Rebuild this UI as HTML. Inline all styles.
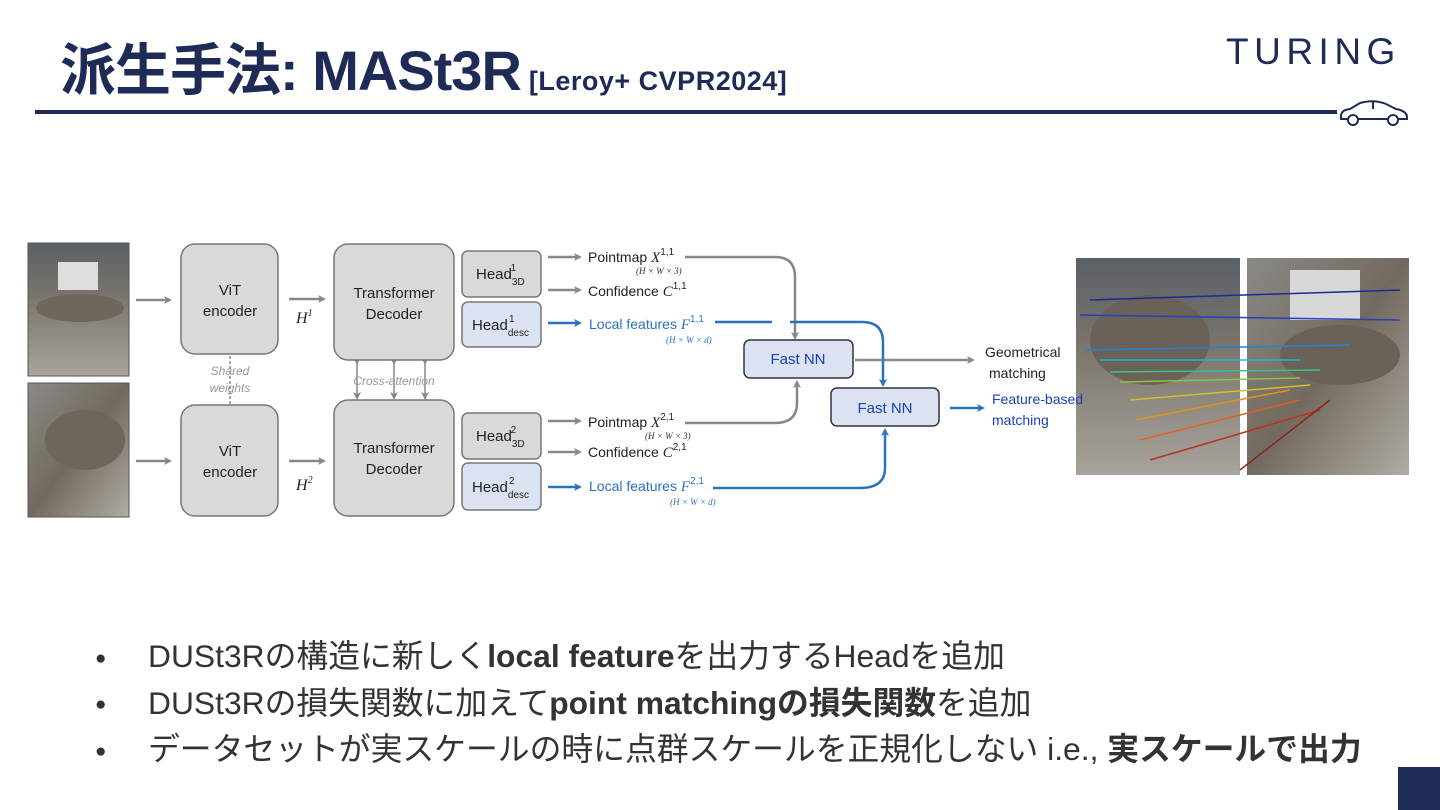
<!DOCTYPE html>
<html><head><meta charset="utf-8"><style>
body{margin:0;width:1440px;height:810px;background:#fff;overflow:hidden;position:relative;font-family:"Liberation Sans","Noto Sans CJK JP",sans-serif;}
.t{position:absolute;color:#1f2b57;}
</style></head><body>
<div class="t" style="left:60px;top:26px;font-size:56px;font-weight:bold;white-space:nowrap;letter-spacing:-1px">派生手法: MASt3R<span style="font-size:27px;letter-spacing:0.5px;margin-left:8px">[Leroy+ CVPR2024]</span></div>
<div class="t" style="left:1226px;top:31px;font-size:37px;letter-spacing:5.5px;font-weight:normal">TURING</div>
<div style="position:absolute;left:35px;top:110px;width:1302px;height:4px;background:#1f2b57"></div>
<svg style="position:absolute;left:1338px;top:98px" width="72" height="30" viewBox="0 0 72 30"><path d="M3 20 Q2 12 12 11 L22 5 Q36 1 48 6 L58 11 Q70 13 69 21 L3 21Z" fill="none" stroke="#1f2b57" stroke-width="2"/><circle cx="15" cy="22" r="5" fill="#fff" stroke="#1f2b57" stroke-width="2"/><circle cx="55" cy="22" r="5" fill="#fff" stroke="#1f2b57" stroke-width="2"/><line x1="35" y1="4" x2="35" y2="11" stroke="#1f2b57" stroke-width="2"/></svg>
<div style="position:absolute;left:1398px;top:767px;width:42px;height:43px;background:#1f2b57"></div>

<svg style="position:absolute;left:0;top:0" width="1440" height="810" viewBox="0 0 1440 810" font-family="Liberation Sans, sans-serif">
<defs>
<marker id="ag" markerWidth="8" markerHeight="8" refX="6" refY="4" orient="auto" markerUnits="userSpaceOnUse"><path d="M0 0 L8 4 L0 8 L2 4Z" fill="#888"/></marker>
<marker id="ab" markerWidth="8" markerHeight="8" refX="6" refY="4" orient="auto" markerUnits="userSpaceOnUse"><path d="M0 0 L8 4 L0 8 L2 4Z" fill="#2a72bd"/></marker>
<linearGradient id="p1" x1="0" y1="0" x2="0" y2="1"><stop offset="0" stop-color="#5a6068"/><stop offset="0.4" stop-color="#7a756c"/><stop offset="1" stop-color="#a8a49c"/></linearGradient>
<linearGradient id="p2" x1="0" y1="0" x2="1" y2="1"><stop offset="0" stop-color="#8a8a86"/><stop offset="0.5" stop-color="#726a5e"/><stop offset="1" stop-color="#b0aca4"/></linearGradient>
</defs>
<rect x="28" y="243" width="101" height="133" fill="url(#p1)" stroke="#555"/>
<rect x="58" y="262" width="40" height="28" fill="#ddd"/>
<ellipse cx="80" cy="308" rx="44" ry="14" fill="#6e665a"/>
<rect x="28" y="383" width="101" height="134" fill="url(#p2)" stroke="#555"/>
<ellipse cx="85" cy="440" rx="40" ry="30" fill="#6e665a"/>
<g stroke="#888" stroke-width="2.5" fill="none">
<line x1="136" y1="300" x2="170" y2="300" marker-end="url(#ag)"/>
<line x1="136" y1="461" x2="170" y2="461" marker-end="url(#ag)"/>
<line x1="289" y1="299" x2="324" y2="299" marker-end="url(#ag)"/>
<line x1="289" y1="461" x2="324" y2="461" marker-end="url(#ag)"/>
<line x1="548" y1="257" x2="580" y2="257" marker-end="url(#ag)"/>
<line x1="548" y1="290" x2="580" y2="290" marker-end="url(#ag)"/>
<line x1="548" y1="421" x2="580" y2="421" marker-end="url(#ag)"/>
<line x1="548" y1="452" x2="580" y2="452" marker-end="url(#ag)"/>
<path d="M685 257 H775 Q795 257 795 277 V338" marker-end="url(#ag)"/>
<path d="M685 423 H775 Q797 423 797 403 V382" marker-end="url(#ag)"/>
<line x1="855" y1="360" x2="973" y2="360" marker-end="url(#ag)"/>
</g>
<g stroke="#888" stroke-width="1.5" fill="none">
<line x1="230" y1="356" x2="230" y2="404" stroke-dasharray="3 2"/>
<line x1="357" y1="363" x2="357" y2="398" marker-start="url(#ag)" marker-end="url(#ag)"/>
<line x1="394" y1="363" x2="394" y2="398" marker-start="url(#ag)" marker-end="url(#ag)"/>
<line x1="425" y1="363" x2="425" y2="398" marker-start="url(#ag)" marker-end="url(#ag)"/>
</g>
<g stroke="#2a72bd" stroke-width="2.5" fill="none">
<line x1="548" y1="323" x2="580" y2="323" marker-end="url(#ab)"/>
<line x1="548" y1="487" x2="580" y2="487" marker-end="url(#ab)"/>
<path d="M715 322 H772 M790 322 H862 Q883 322 883 342 V385" marker-end="url(#ab)"/>
<path d="M713 488 H860 Q885 488 885 468 V430" marker-end="url(#ab)"/>
<line x1="950" y1="408" x2="983" y2="408" marker-end="url(#ab)"/>
</g>
<g stroke="#777" stroke-width="1.5" fill="#d9d9d9">
<rect x="181" y="244" width="97" height="110" rx="14"/>
<rect x="181" y="405" width="97" height="111" rx="14"/>
<rect x="334" y="244" width="120" height="116" rx="14"/>
<rect x="334" y="400" width="120" height="116" rx="14"/>
<rect x="462" y="251" width="79" height="46" rx="6"/>
<rect x="462" y="413" width="79" height="46" rx="6"/>
</g>
<g stroke="#777" stroke-width="1.5" fill="#dbe3f3">
<rect x="462" y="302" width="79" height="45" rx="6"/>
<rect x="462" y="463" width="79" height="47" rx="6"/>
</g>
<g stroke="#334" stroke-width="1.5" fill="#dbe3f3">
<rect x="744" y="340" width="109" height="38" rx="6"/>
<rect x="831" y="388" width="108" height="38" rx="6"/>
</g>
<g font-size="15" fill="#222" text-anchor="middle">
<text x="230" y="295">ViT</text><text x="230" y="316">encoder</text>
<text x="230" y="456">ViT</text><text x="230" y="477">encoder</text>
<text x="394" y="298">Transformer</text><text x="394" y="319">Decoder</text>
<text x="394" y="453">Transformer</text><text x="394" y="474">Decoder</text>
</g>
<g font-size="15" fill="#222">
<text x="476" y="279">Head<tspan font-size="10" dy="6">3D</tspan><tspan font-size="10" dx="-14" dy="-14">1</tspan></text>
<text x="472" y="330">Head<tspan font-size="10" dy="6">desc</tspan><tspan font-size="10" dx="-20" dy="-14">1</tspan></text>
<text x="476" y="441">Head<tspan font-size="10" dy="6">3D</tspan><tspan font-size="10" dx="-14" dy="-14">2</tspan></text>
<text x="472" y="492">Head<tspan font-size="10" dy="6">desc</tspan><tspan font-size="10" dx="-20" dy="-14">2</tspan></text>
<text x="588" y="262" font-size="14">Pointmap <tspan font-family="Liberation Serif" font-style="italic" font-size="15">X</tspan><tspan font-size="10" dy="-7">1,1</tspan></text>
<text x="588" y="296" font-size="14">Confidence <tspan font-family="Liberation Serif" font-style="italic" font-size="15">C</tspan><tspan font-size="10" dy="-7">1,1</tspan></text>
<text x="588" y="427" font-size="14">Pointmap  <tspan font-family="Liberation Serif" font-style="italic" font-size="15">X</tspan><tspan font-size="10" dy="-7">2,1</tspan></text>
<text x="588" y="457" font-size="14">Confidence  <tspan font-family="Liberation Serif" font-style="italic" font-size="15">C</tspan><tspan font-size="10" dy="-7">2,1</tspan></text>
<text x="985" y="357" font-size="14">Geometrical</text><text x="989" y="378" font-size="14">matching</text>
</g>
<g fill="#2a72bd" font-size="14">
<text x="589" y="329">Local features  <tspan font-family="Liberation Serif" font-style="italic" font-size="15">F</tspan><tspan font-size="10" dy="-7">1,1</tspan></text>
<text x="589" y="491">Local features  <tspan font-family="Liberation Serif" font-style="italic" font-size="15">F</tspan><tspan font-size="10" dy="-7">2,1</tspan></text>
</g>
<g font-family="Liberation Serif" font-style="italic" font-size="9" fill="#333">
<text x="636" y="274">(H × W × 3)</text><text x="645" y="439">(H × W × 3)</text>
<text x="666" y="343" fill="#2a72bd">(H × W × d)</text><text x="670" y="505" fill="#2a72bd">(H × W × d)</text>
</g>
<g font-family="Liberation Serif" font-style="italic" font-size="16" fill="#222">
<text x="296" y="323">H<tspan font-size="10" dy="-7">1</tspan></text>
<text x="296" y="490">H<tspan font-size="10" dy="-7">2</tspan></text>
</g>
<g font-style="italic" font-size="12" fill="#999" text-anchor="middle">
<text x="230" y="375">Shared</text><text x="230" y="392">weights</text>
<text x="394" y="385">Cross-attention</text>
</g>
<g font-size="15" fill="#1a3fb8" text-anchor="middle">
<text x="798" y="364">Fast NN</text><text x="885" y="413">Fast NN</text>
</g>
<rect x="1076" y="258" width="164" height="217" fill="url(#p1)"/>
<rect x="1247" y="258" width="162" height="217" fill="url(#p2)"/>
<rect x="1290" y="270" width="70" height="50" fill="#d8d8d8"/>
<ellipse cx="1150" cy="340" rx="60" ry="45" fill="#6a6258"/>
<ellipse cx="1340" cy="355" rx="60" ry="30" fill="#6a6258"/>
<g stroke-width="1.5">
<line x1="1090" y1="300" x2="1400" y2="290" stroke="#1a2a9a"/>
<line x1="1080" y1="315" x2="1400" y2="320" stroke="#2340c0"/>
<line x1="1085" y1="350" x2="1350" y2="345" stroke="#2a80d0"/>
<line x1="1100" y1="360" x2="1300" y2="360" stroke="#30b0d0"/>
<line x1="1110" y1="372" x2="1320" y2="370" stroke="#40c080"/>
<line x1="1120" y1="382" x2="1300" y2="378" stroke="#90c040"/>
<line x1="1130" y1="400" x2="1310" y2="385" stroke="#d0c030"/>
<line x1="1135" y1="420" x2="1290" y2="390" stroke="#e09020"/>
<line x1="1140" y1="440" x2="1300" y2="400" stroke="#e06020"/>
<line x1="1150" y1="460" x2="1320" y2="410" stroke="#c03020"/>
<line x1="1240" y1="470" x2="1330" y2="400" stroke="#902020"/>
</g>
<g font-size="14" fill="#1a3fb8"><text x="992" y="404">Feature-based</text><text x="992" y="425">matching</text></g>
</svg>

<div style="position:absolute;left:95px;top:634px;font-size:31.8px;color:#333;line-height:44px;white-space:nowrap;font-family:'Liberation Sans','Noto Sans CJK JP',sans-serif">
<div><span style="display:inline-block;width:53px;font-size:19px;vertical-align:middle">●</span>DUSt3Rの構造に新しく<b>local feature</b>を出力するHeadを追加</div>
<div><span style="display:inline-block;width:53px;font-size:19px;vertical-align:middle">●</span>DUSt3Rの損失関数に加えて<b>point matchingの損失関数</b>を追加</div>
<div><span style="display:inline-block;width:53px;font-size:19px;vertical-align:middle">●</span>データセットが実スケールの時に点群スケールを正規化しない i.e., <b>実スケールで出力</b></div>
</div>
</body></html>
